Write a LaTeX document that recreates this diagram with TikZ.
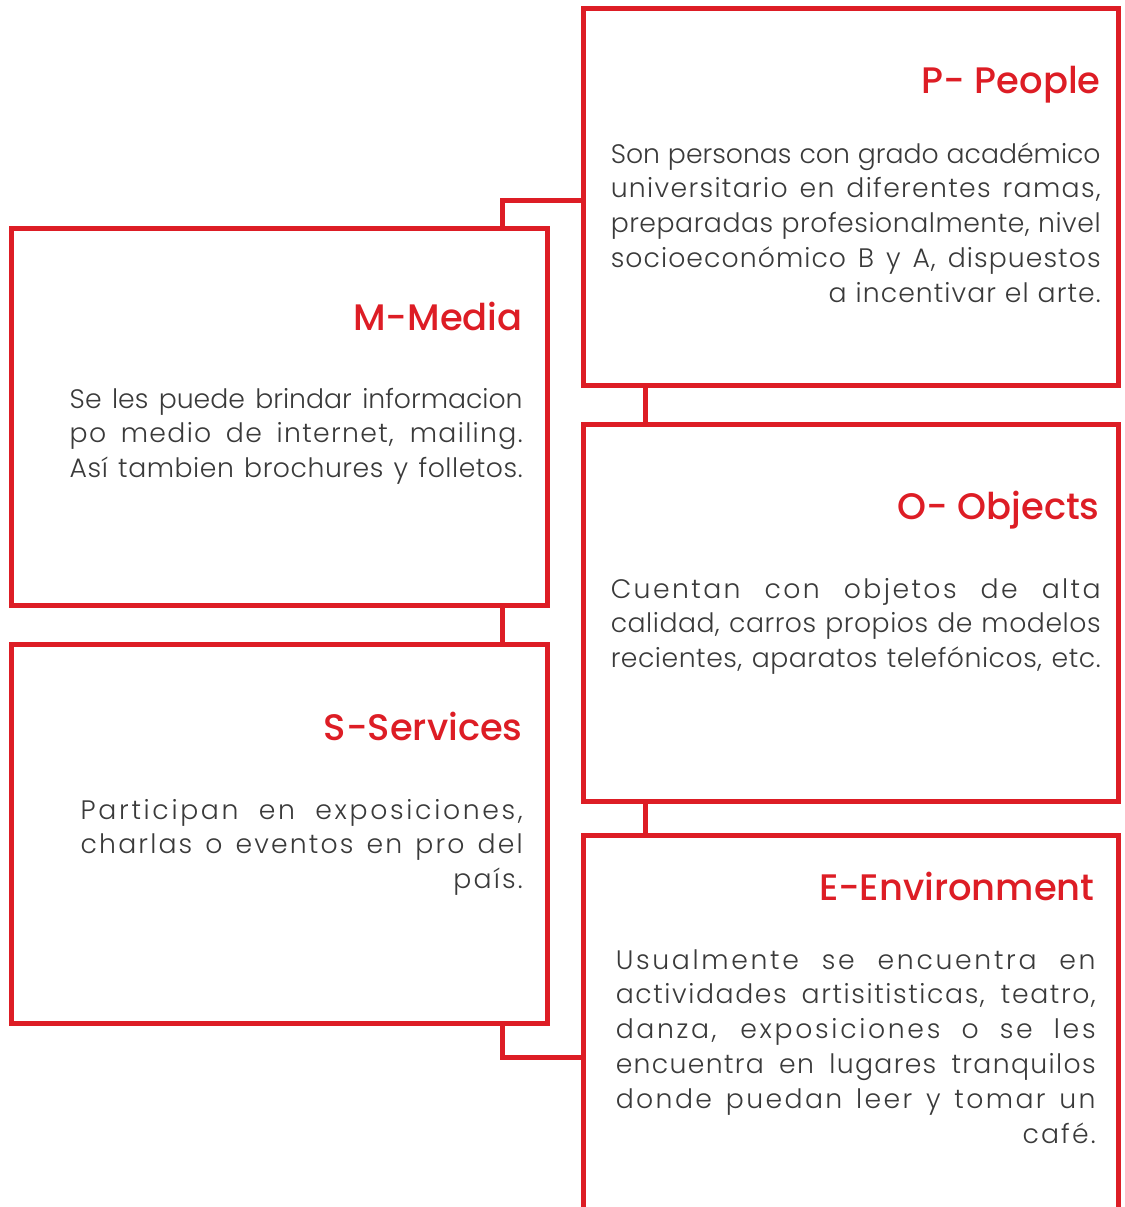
\documentclass[tikz,border=0pt]{standalone}
\usepackage{fontspec}
\setmainfont{Poppins Light}[BoldFont={Poppins Medium}]
\usepackage{tikz}
\definecolor{brandred}{RGB}{221,29,37}
\definecolor{bodygray}{RGB}{58,58,58}
% justified line, with tracking
\newcommand{\jline}[2][0]{{\addfontfeature{LetterSpace=#1}\spaceskip=\fontdimen2\font plus 1fil\relax\makebox[\hsize][s]{#2}}}
% closing line, with tracking
\newcommand{\lastline}[2][0]{{\addfontfeature{LetterSpace=#1}#2}}

\begin{document}
\begin{tikzpicture}[x=0.02cm, y=-0.02cm,
	panel/.style={draw=brandred, line width=0.1cm, minimum width=10.72cm, minimum height=7.56cm, inner sep=0pt, outer sep=0pt},
	heading/.style={text=brandred, font=\fontsize{21}{24}\selectfont\bfseries, anchor=base east, inner sep=0pt},
	blurb/.style={text=bodygray, font=\fontsize{15.2}{19.84}\selectfont, anchor=base east, inner sep=0pt, align=right},
	link/.style={draw=brandred, line width=0.1cm}]

	\useasboundingbox (0,0) rectangle (1125,1207);

	% Panels %
	\node [panel] (people) at (851,197) {};
	\node [panel] (media) at (279.5,417) {};
	\node [panel] (objects) at (851,613) {};
	\node [panel, minimum height=7.58cm] (services) at (279.5,834) {};
	\node [panel, minimum height=8.1cm] (environment) at (851,1037.5) {};

	% Links %
	\draw [link] ([xshift=-0.89cm]media.north east) |- ([yshift=-0.06cm]people.west);
	\draw [link] ([xshift=1.24cm]people.south west) -- ([xshift=1.24cm]objects.north west);
	\draw [link] ([xshift=-0.89cm]media.south east) -- ([xshift=-0.89cm]services.north east);
	\draw [link] ([xshift=1.24cm]objects.south west) -- ([xshift=1.24cm]environment.north west);
	\draw [link] ([xshift=-0.89cm]services.south east) |- ([yshift=-0.39cm]environment.west);

	% People %
	\node [heading] (peopletitle) at (1101,93) {P- People};
	\node [blurb, text width=9.8cm] (peopletext) at (1101,163) {\jline{Son personas con grado académico}\\ \jline[5]{universitario en diferentes ramas,}\\ \jline[2]{preparadas profesionalmente, nivel}\\ \jline[4]{socioeconómico B y A, dispuestos}\\ \lastline[4]{a incentivar el arte.}};

	% Media %
	\node [heading] (mediatitle) at (523,330) {M-Media};
	\node [blurb, text width=9.06cm] (mediatext) at (523,408) {\jline{Se les puede brindar informacion}\\ \jline[5]{po medio de internet, mailing.}\\ \jline[2]{Así tambien brochures y folletos.}};

	% Objects %
	\node [heading] (objectstitle) at (1100,519) {O- Objects};
	\node [blurb, text width=9.8cm] (objectstext) at (1101,598) {\jline[9]{Cuentan con objetos de alta}\\ \jline[2]{calidad, carros propios de modelos}\\ \jline[2]{recientes, aparatos telefónicos, etc.}};

	% Services %
	\node [heading] (servicestitle) at (523,740) {S-Services};
	\node [blurb, text width=8.84cm] (servicestext) at (523,819) {\jline[10]{Participan en exposiciones,}\\ \jline[8]{charlas o eventos en pro del}\\ \lastline[8]{país.}};

	% Environment %
	\node [heading] (environmenttitle) at (1095,900) {E-Environment};
	\node [blurb, text width=9.6cm] (environmenttext) at (1096,969) {\jline[10]{Usualmente se encuentra en}\\ \jline[6]{actividades artisitisticas, teatro,}\\ \jline[10]{danza, exposiciones o se les}\\ \jline[5]{encuentra en lugares tranquilos}\\ \jline[9]{donde puedan leer y tomar un}\\ \lastline[8]{café.}};
\end{tikzpicture}
\end{document}
